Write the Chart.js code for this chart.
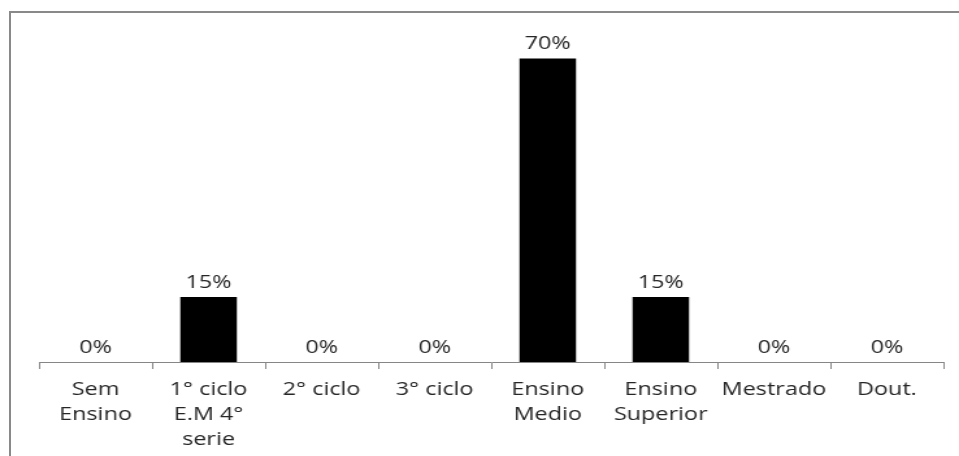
<!DOCTYPE html>
<html>
<head>
<meta charset="utf-8">
<script src="https://cdn.jsdelivr.net/npm/chart.js@4"></script>
<style>
    body {
        margin: 0;
        background: #fff;
        overflow: hidden;
    }
    .frame {
        position: absolute;
        left: 9px;
        top: 11px;
        width: 1000px;
        height: 500px;
        border-top: 2px solid #898989;
        border-left: 2px solid #898989;
    }
    /* o grafico e desenhado mais estreito e esticado na horizontal */
    .chart__wrap {
        position: absolute;
        left: 0;
        top: 0;
        width: 738px;
        height: 456px;
        transform: scaleX(1.2995);
        transform-origin: 0 0;
    }
</style>
</head>
<body>
<div class="frame"></div>
<div class="chart__wrap">
    <canvas id="escolaridade"></canvas>
</div>
<script>
//escolaridade - categorias e percentuais
const categorias = [
    ["Sem", "Ensino"],
    ["1° ciclo", "E.M 4°", "serie"],
    "2° ciclo",
    "3° ciclo",
    ["Ensino", "Medio"],
    ["Ensino", "Superior"],
    "Mestrado",
    "Dout.",
];
const percentuais = [0, 15, 0, 0, 70, 15, 0, 0];

const fonteTexto = {
    family: "'Open Sans', sans-serif",
    size: 18,
    lineHeight: 1.39,
};
const corTexto = "#262626";
const corEixo = "#868686";

//rotulos de valor acima das barras
const rotulosValor = {
    id: "rotulosValor",
    afterDatasetsDraw(chart) {
        const ctx = chart.ctx;
        const meta = chart.getDatasetMeta(0);
        ctx.save();
        ctx.font = "18px 'Open Sans', sans-serif";
        ctx.fillStyle = corTexto;
        ctx.textAlign = "center";
        ctx.textBaseline = "alphabetic";
        meta.data.forEach((bar, i) => {
            ctx.fillText(percentuais[i] + "%", bar.x, bar.y - 9);
        });
        ctx.restore();
    },
};

new Chart(document.getElementById("escolaridade"), {
    type: "bar",
    data: {
        labels: categorias,
        datasets: [
            {
                data: percentuais,
                backgroundColor: "#000000",
                borderWidth: 0,
                barPercentage: 0.5,
                categoryPercentage: 1,
            },
        ],
    },
    options: {
        responsive: true,
        maintainAspectRatio: false,
        animation: false,
        layout: {
            padding: { left: 30, right: 12, top: 15, bottom: 0 },
        },
        plugins: {
            legend: { display: false },
            tooltip: { enabled: false },
        },
        scales: {
            x: {
                grid: {
                    offset: true,
                    drawOnChartArea: false,
                    tickLength: 7,
                    color: corEixo,
                },
                border: { color: corEixo },
                ticks: {
                    color: corTexto,
                    font: fonteTexto,
                    padding: 8,
                    maxRotation: 0,
                    autoSkip: false,
                },
                afterFit: (axis) => {
                    axis.height = 94;
                },
            },
            y: {
                display: false,
                min: 0,
                max: 80,
            },
        },
    },
    plugins: [rotulosValor],
});
</script>
</body>
</html>
